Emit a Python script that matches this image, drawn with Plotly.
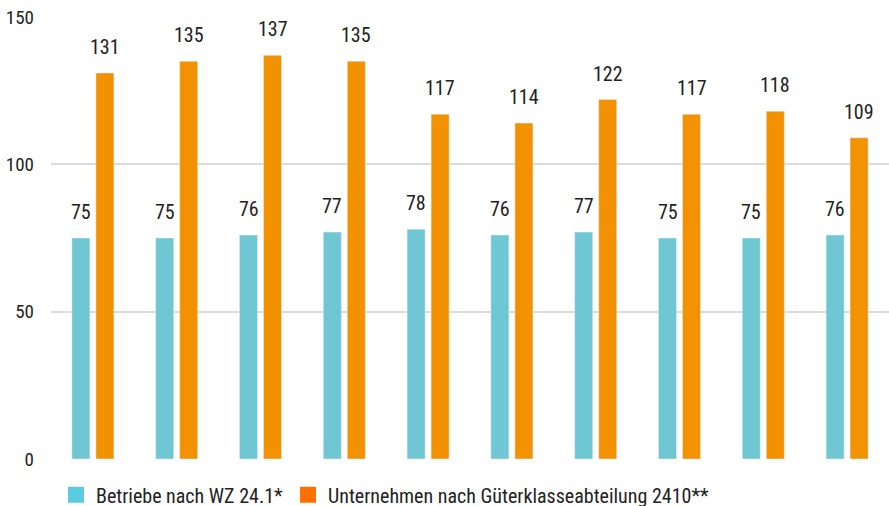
import plotly.graph_objects as go

categories = ["1", "2", "3", "4", "5", "6", "7", "8", "9", "10"]
betriebe = [75, 75, 76, 77, 78, 76, 77, 75, 75, 76]
unternehmen = [131, 135, 137, 135, 117, 114, 122, 117, 118, 109]
series_names = ["Betriebe nach WZ 24.1*", "Unternehmen nach Güterklasseabteilung 2410**"]
y_ticks = [0, 50, 100, 150]

FONT = "Roboto Condensed, sans-serif"
TEAL = "#6FC7D3"
ORANGE = "#F39200"
TEAL_LEG = "#5CCADF"
ORANGE_LEG = "#FF7000"

fig = go.Figure()
fig.add_trace(go.Bar(x=categories, y=betriebe, marker=dict(color=TEAL), showlegend=False,
                     hoverinfo="skip"))
fig.add_trace(go.Bar(x=categories, y=unternehmen, marker=dict(color=ORANGE), showlegend=False,
                     hoverinfo="skip"))
fig.add_trace(go.Scatter(x=[None], y=[None], mode="markers", name=series_names[0],
                         marker=dict(symbol="square", size=16, color=TEAL_LEG)))
fig.add_trace(go.Scatter(x=[None], y=[None], mode="markers", name=series_names[1],
                         marker=dict(symbol="square", size=16, color=ORANGE_LEG)))

annotations = []
for i, v in enumerate(betriebe):
    annotations.append(dict(x=i, y=v, xref="x", yref="y", text=str(v), showarrow=False,
                            xshift=-12, yshift=26, yanchor="middle",
                            font=dict(family=FONT, size=20, color="#222222")))
for i, v in enumerate(unternehmen):
    annotations.append(dict(x=i, y=v, xref="x", yref="y", text=str(v), showarrow=False,
                            xshift=12, yshift=26, yanchor="middle",
                            font=dict(family=FONT, size=20, color="#222222")))

fig.update_layout(
    width=889, height=506,
    margin=dict(l=51, r=0, t=17, b=47),
    plot_bgcolor="white", paper_bgcolor="white",
    barmode="group", bargap=0.427, bargroupgap=0.25,
    font=dict(family=FONT, size=19, color="#222222"),
    xaxis=dict(type="category", showticklabels=False, showgrid=False, zeroline=False,
               showline=False, range=[-0.5, 9.5], automargin=False),
    yaxis=dict(range=[0, 150], tickvals=y_ticks, showgrid=True, gridcolor="#DCDCDC",
               gridwidth=2, zeroline=False, showline=False, automargin=False,
               ticklabelstandoff=16, tickfont=dict(family=FONT, size=19, color="#222222")),
    legend=dict(orientation="h", xref="container", yref="container",
                x=0.063, xanchor="left", y=0.022, yanchor="middle",
                font=dict(family=FONT, size=20, color="#222222"), itemclick=False),
    annotations=annotations,
)

fig.write_html("out.html", config={"displayModeBar": False},
               post_script="document.body.style.margin='0';document.body.style.overflow='hidden';")
